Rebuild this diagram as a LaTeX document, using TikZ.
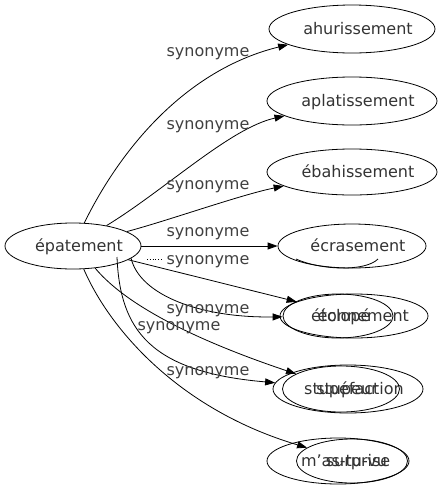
\documentclass[tikz,border=0pt]{standalone}
\usepackage{fontspec}
\setmainfont{DejaVu Sans}
\usetikzlibrary{shapes.geometric,arrows.meta}
\begin{document}
\begin{tikzpicture}[x=1pt,y=-1pt,
  tx/.style={text=black!80,font=\fontsize{16}{19}\selectfont,inner sep=0pt,text height=11pt,text depth=0pt,xshift=6pt},
  nd/.style={ellipse,draw,line width=0.8pt,inner sep=0pt,label={[tx]center:#1}},
  lab/.style={text=black!75,font=\fontsize{16}{19}\selectfont,inner sep=0pt},
  arr/.style={line width=0.8pt,-{Triangle[length=10pt,width=7pt]}},
  ln/.style={line width=0.8pt}]
\useasboundingbox (0,0) rectangle (442,491);
% nodes
\node[nd=épatement,minimum width=136pt,minimum height=46pt] (ep) at (73,246) {};
\node[nd=ahurissement,minimum width=166pt,minimum height=48pt] (ahu) at (352,29) {};
\node[nd=aplatissement,minimum width=170pt,minimum height=48pt] (apl) at (352,101) {};
\node[nd=ébahissement,minimum width=170pt,minimum height=46pt] (eba) at (352,172) {};
\node[nd=écrasement,minimum width=148pt,minimum height=44pt] (ecr) at (352,246) {};
\node[nd=étonnement,minimum width=148pt,minimum height=44pt] (eto) at (354,316) {};
\node[nd=éclopé,minimum width=110pt,minimum height=44pt] (ecl) at (338,316) {};
\node[nd=stupéfaction,minimum width=150pt,minimum height=48pt] (stu) at (348,389) {};
\node[nd=stupeur,minimum width=117pt,minimum height=46pt] (stp) at (341,389) {};
\node[nd=m'as-tu-vu,minimum width=142pt,minimum height=46pt] (mas) at (338,461) {};
\node[nd=surprise,minimum width=111pt,minimum height=44pt] (sur) at (352,461) {};
% edges
\draw[arr] (ep) .. controls (120,150) and (185,70) .. (ahu);
\draw[arr] (ep) .. controls (165,190) and (230,128) .. (apl);
\draw[arr] (ep) .. controls (170,220) and (240,195) .. (eba);
\draw[arr] (ep) -- (ecr);
\draw[arr] (ep) -- (eto);
\draw[arr] (ep.-12) .. controls (140,295) and (200,318) .. (ecl);
\draw[arr] (ep.-45) .. controls (130,310) and (210,345) .. (stp);
\coordinate (s6b) at (117,257);
\draw[arr] (s6b) .. controls (120,330) and (150,372) .. (stu);
\draw[arr] (ep.-65) .. controls (110,330) and (180,410) .. (sur);
% fragments
\draw[ln] (296,259) .. controls (320,270) and (365,272) .. (378,259);
\draw[line width=0.8pt,dotted] (147,259) -- (163,259);
% labels
\node[lab] (l1) at (208,54) {synonyme};
\node[lab] (l2) at (208,127) {synonyme};
\node[lab] (l3) at (208,187) {synonyme};
\node[lab] (l4) at (208,234) {synonyme};
\node[lab] (l5) at (208,262) {synonyme};
\node[lab] (l6) at (208,311) {synonyme};
\node[lab] (l7) at (179,328) {synonyme};
\node[lab] (l8) at (208,373) {synonyme};
\end{tikzpicture}
\end{document}
